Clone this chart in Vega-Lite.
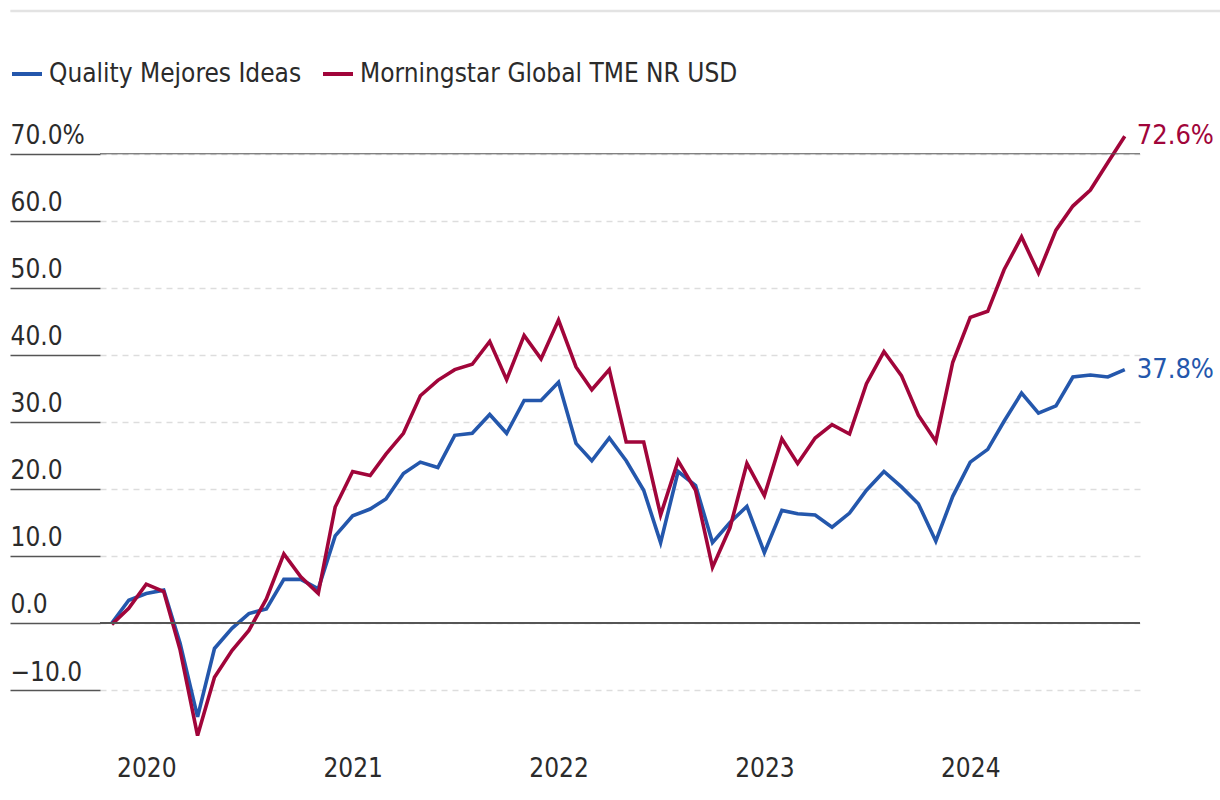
{
  "$schema": "https://vega.github.io/schema/vega-lite/v6.json",
  "width": 1040,
  "height": 614,
  "autosize": {"type": "none"},
  "padding": {"left": 100, "top": 133, "right": 80, "bottom": 53},
  "background": "white",
  "config": {"view": {"stroke": null}, "font": "DejaVu Sans Condensed, Roboto, sans-serif"},
  "datasets": {
    "perf": [
      {"date": "2019-11-01", "Quality Mejores Ideas": 0, "Morningstar Global TME NR USD": -0.2},
      {"date": "2019-12-01", "Quality Mejores Ideas": 3.4, "Morningstar Global TME NR USD": 2.2},
      {"date": "2020-01-01", "Quality Mejores Ideas": 4.4, "Morningstar Global TME NR USD": 5.8},
      {"date": "2020-02-01", "Quality Mejores Ideas": 4.9, "Morningstar Global TME NR USD": 4.7},
      {"date": "2020-03-01", "Quality Mejores Ideas": -3.0, "Morningstar Global TME NR USD": -4.0},
      {"date": "2020-04-01", "Quality Mejores Ideas": -14.0, "Morningstar Global TME NR USD": -16.8},
      {"date": "2020-05-01", "Quality Mejores Ideas": -3.8, "Morningstar Global TME NR USD": -8.1},
      {"date": "2020-06-01", "Quality Mejores Ideas": -0.8, "Morningstar Global TME NR USD": -4.1},
      {"date": "2020-07-01", "Quality Mejores Ideas": 1.4, "Morningstar Global TME NR USD": -1.1},
      {"date": "2020-08-01", "Quality Mejores Ideas": 2.1, "Morningstar Global TME NR USD": 3.6},
      {"date": "2020-09-01", "Quality Mejores Ideas": 6.5, "Morningstar Global TME NR USD": 10.3},
      {"date": "2020-10-01", "Quality Mejores Ideas": 6.5, "Morningstar Global TME NR USD": 6.9},
      {"date": "2020-11-01", "Quality Mejores Ideas": 5.1, "Morningstar Global TME NR USD": 4.4},
      {"date": "2020-12-01", "Quality Mejores Ideas": 13.0, "Morningstar Global TME NR USD": 17.3},
      {"date": "2021-01-01", "Quality Mejores Ideas": 16.0, "Morningstar Global TME NR USD": 22.6},
      {"date": "2021-02-01", "Quality Mejores Ideas": 17.0, "Morningstar Global TME NR USD": 22.0},
      {"date": "2021-03-01", "Quality Mejores Ideas": 18.5, "Morningstar Global TME NR USD": 25.2},
      {"date": "2021-04-01", "Quality Mejores Ideas": 22.3, "Morningstar Global TME NR USD": 28.3},
      {"date": "2021-05-01", "Quality Mejores Ideas": 24.0, "Morningstar Global TME NR USD": 33.9},
      {"date": "2021-06-01", "Quality Mejores Ideas": 23.2, "Morningstar Global TME NR USD": 36.2},
      {"date": "2021-07-01", "Quality Mejores Ideas": 28.0, "Morningstar Global TME NR USD": 37.8},
      {"date": "2021-08-01", "Quality Mejores Ideas": 28.3, "Morningstar Global TME NR USD": 38.6},
      {"date": "2021-09-01", "Quality Mejores Ideas": 31.1, "Morningstar Global TME NR USD": 42.0},
      {"date": "2021-10-01", "Quality Mejores Ideas": 28.3, "Morningstar Global TME NR USD": 36.3},
      {"date": "2021-11-01", "Quality Mejores Ideas": 33.2, "Morningstar Global TME NR USD": 42.9},
      {"date": "2021-12-01", "Quality Mejores Ideas": 33.2, "Morningstar Global TME NR USD": 39.4},
      {"date": "2022-01-01", "Quality Mejores Ideas": 35.9, "Morningstar Global TME NR USD": 45.2},
      {"date": "2022-02-01", "Quality Mejores Ideas": 26.8, "Morningstar Global TME NR USD": 38.2},
      {"date": "2022-03-01", "Quality Mejores Ideas": 24.2, "Morningstar Global TME NR USD": 34.8},
      {"date": "2022-04-01", "Quality Mejores Ideas": 27.6, "Morningstar Global TME NR USD": 37.8},
      {"date": "2022-05-01", "Quality Mejores Ideas": 24.2, "Morningstar Global TME NR USD": 27.0},
      {"date": "2022-06-01", "Quality Mejores Ideas": 19.8, "Morningstar Global TME NR USD": 27.0},
      {"date": "2022-07-01", "Quality Mejores Ideas": 12.0, "Morningstar Global TME NR USD": 16.1},
      {"date": "2022-08-01", "Quality Mejores Ideas": 22.6, "Morningstar Global TME NR USD": 24.2},
      {"date": "2022-09-01", "Quality Mejores Ideas": 20.5, "Morningstar Global TME NR USD": 19.8},
      {"date": "2022-10-01", "Quality Mejores Ideas": 12.0, "Morningstar Global TME NR USD": 8.3},
      {"date": "2022-11-01", "Quality Mejores Ideas": 15.0, "Morningstar Global TME NR USD": 14.2},
      {"date": "2022-12-01", "Quality Mejores Ideas": 17.4, "Morningstar Global TME NR USD": 23.8},
      {"date": "2023-01-01", "Quality Mejores Ideas": 10.5, "Morningstar Global TME NR USD": 19.0},
      {"date": "2023-02-01", "Quality Mejores Ideas": 16.8, "Morningstar Global TME NR USD": 27.5},
      {"date": "2023-03-01", "Quality Mejores Ideas": 16.3, "Morningstar Global TME NR USD": 23.8},
      {"date": "2023-04-01", "Quality Mejores Ideas": 16.1, "Morningstar Global TME NR USD": 27.6},
      {"date": "2023-05-01", "Quality Mejores Ideas": 14.3, "Morningstar Global TME NR USD": 29.6},
      {"date": "2023-06-01", "Quality Mejores Ideas": 16.4, "Morningstar Global TME NR USD": 28.2},
      {"date": "2023-07-01", "Quality Mejores Ideas": 19.8, "Morningstar Global TME NR USD": 35.7},
      {"date": "2023-08-01", "Quality Mejores Ideas": 22.6, "Morningstar Global TME NR USD": 40.5},
      {"date": "2023-09-01", "Quality Mejores Ideas": 20.3, "Morningstar Global TME NR USD": 36.9},
      {"date": "2023-10-01", "Quality Mejores Ideas": 17.8, "Morningstar Global TME NR USD": 31.0},
      {"date": "2023-11-01", "Quality Mejores Ideas": 12.2, "Morningstar Global TME NR USD": 27.1},
      {"date": "2023-12-01", "Quality Mejores Ideas": 18.9, "Morningstar Global TME NR USD": 38.9},
      {"date": "2024-01-01", "Quality Mejores Ideas": 24.0, "Morningstar Global TME NR USD": 45.6},
      {"date": "2024-02-01", "Quality Mejores Ideas": 25.9, "Morningstar Global TME NR USD": 46.5},
      {"date": "2024-03-01", "Quality Mejores Ideas": 30.1, "Morningstar Global TME NR USD": 52.7},
      {"date": "2024-04-01", "Quality Mejores Ideas": 34.3, "Morningstar Global TME NR USD": 57.6},
      {"date": "2024-05-01", "Quality Mejores Ideas": 31.3, "Morningstar Global TME NR USD": 52.2},
      {"date": "2024-06-01", "Quality Mejores Ideas": 32.4, "Morningstar Global TME NR USD": 58.6},
      {"date": "2024-07-01", "Quality Mejores Ideas": 36.7, "Morningstar Global TME NR USD": 62.2},
      {"date": "2024-08-01", "Quality Mejores Ideas": 37.0, "Morningstar Global TME NR USD": 64.6},
      {"date": "2024-09-01", "Quality Mejores Ideas": 36.7, "Morningstar Global TME NR USD": 68.7},
      {"date": "2024-10-01", "Quality Mejores Ideas": 37.8, "Morningstar Global TME NR USD": 72.6}
    ],
    "ends": [
      {"date": "2024-10-01", "key": "Quality Mejores Ideas", "value": 37.8},
      {"date": "2024-10-01", "key": "Morningstar Global TME NR USD", "value": 72.6}
    ]
  },
  "layer": [
    {
      "data": {"values": [{}]},
      "mark": {"type": "rule", "color": "#e3e3e3", "strokeWidth": 2.5},
      "encoding": {
        "x": {"datum": {"year": 2019, "month": 5, "date": 5}, "type": "temporal"},
        "x2": {"datum": {"year": 2025, "month": 3, "date": 20}},
        "y": {"datum": 91.3, "type": "quantitative"}
      }
    },
    {
      "data": {"name": "perf"},
      "transform": [
        {"fold": ["Quality Mejores Ideas", "Morningstar Global TME NR USD"], "as": ["key", "value"]}
      ],
      "mark": {"type": "line", "strokeWidth": 3.6},
      "encoding": {
        "x": {
          "field": "date",
          "type": "temporal",
          "title": null,
          "scale": {"domain": [{"year": 2019, "month": 10, "date": 11}, {"year": 2024, "month": 10, "date": 28}]},
          "axis": {
            "values": [{"year": 2020}, {"year": 2021}, {"year": 2022}, {"year": 2023}, {"year": 2024}],
            "format": "%Y",
            "domain": false,
            "ticks": false,
            "grid": false,
            "labelFontSize": 26,
            "labelColor": "#2b2b2b",
            "labelPadding": 8
          }
        },
        "y": {
          "field": "value",
          "type": "quantitative",
          "title": null,
          "scale": {"domain": [-18.5, 73.1], "nice": false, "zero": false},
          "axis": {
            "values": [-10, 0, 10, 20, 30, 40, 50, 60, 70],
            "labelExpr": "datum.value == 70 ? '70.0%' : format(datum.value, '.1f')",
            "domain": false,
            "tickSize": 90,
            "tickColor": "#555555",
            "tickWidth": 1.5,
            "labelAlign": "left",
            "labelBaseline": "alphabetic",
            "labelOffset": -10,
            "labelPadding": 0,
            "labelFontSize": 26,
            "labelColor": "#2b2b2b",
            "grid": true,
            "gridColor": "#dddddd",
            "gridDash": [6, 5],
            "gridWidth": 1.5
          }
        },
        "color": {
          "field": "key",
          "type": "nominal",
          "scale": {
            "domain": ["Quality Mejores Ideas", "Morningstar Global TME NR USD"],
            "range": ["#2457AC", "#A1053A"]
          },
          "legend": {
            "title": null,
            "orient": "none",
            "legendX": -90,
            "legendY": -76,
            "direction": "horizontal",
            "symbolType": "stroke",
            "symbolSize": 900,
            "symbolStrokeWidth": 4,
            "labelFontSize": 26,
            "labelColor": "#2b2b2b",
            "labelOffset": 5,
            "labelLimit": 600,
            "columnPadding": 13
          }
        }
      }
    },
    {
      "data": {"values": [{}]},
      "mark": {"type": "rule", "color": "#555555", "strokeWidth": 2},
      "encoding": {"y": {"datum": 0, "type": "quantitative"}}
    },
    {
      "data": {"values": [{}]},
      "mark": {"type": "rule", "color": "#555555", "strokeWidth": 1},
      "encoding": {"y": {"datum": 70, "type": "quantitative"}}
    },
    {
      "data": {"name": "ends"},
      "mark": {
        "type": "text",
        "align": "left",
        "baseline": "middle",
        "dx": 12,
        "fontSize": 27,
        "text": {"expr": "format(datum.value, '.1f') + '%'"}
      },
      "encoding": {
        "x": {"field": "date", "type": "temporal"},
        "y": {"field": "value", "type": "quantitative"},
        "color": {"field": "key", "type": "nominal", "legend": null}
      }
    }
  ]
}
